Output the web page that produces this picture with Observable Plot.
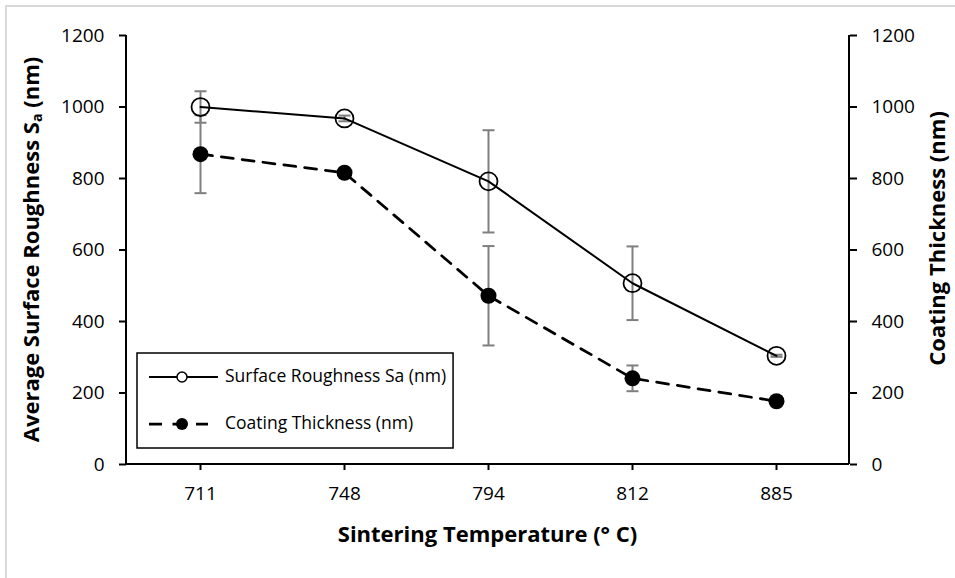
<!DOCTYPE html>
<html><head><meta charset="utf-8">
<script src="https://cdn.jsdelivr.net/npm/d3@7"></script>
<script src="https://cdn.jsdelivr.net/npm/@observablehq/plot@0.6"></script>
<style>body{margin:0;background:#fff}</style>
</head><body><div id="chart"></div>
<script>
// ---- data ----
const temperatures = ["711", "748", "794", "812", "885"];
const roughness    = [1000, 968, 792, 507, 304];
const roughnessErr = [44, 8, 143, 103, 3];
const thickness    = [868, 816, 472, 241, 177];
const thicknessErr = [109, 5, 139, 36, 5];
const yTicks = [0, 200, 400, 600, 800, 1000, 1200];
const xTitle = "Sintering Temperature (° C)";
const yLeftTitle = ["Average Surface Roughness S", "a", " (nm)"];
const yRightTitle = "Coating Thickness (nm)";
const legendLabels = ["Surface Roughness Sa (nm)", "Coating Thickness (nm)"];

const rData = temperatures.map((t, i) => ({t, v: roughness[i], e: roughnessErr[i]}));
const cData = temperatures.map((t, i) => ({t, v: thickness[i], e: thicknessErr[i]}));

const FONT = "'Open Sans', 'Noto Sans', sans-serif";
const TICK_FS = 19;
const LEGEND_FS = 17.5;
const TITLE_FS = 22;
const GRAY = "#7f7f7f";

const capSymbol = {draw(ctx) { ctx.moveTo(-6, 0); ctx.lineTo(6, 0); }};

function decorations(index, scales, values, dim) {
  const g = d3.create("svg:g");
  const L = dim.marginLeft, R = dim.width - dim.marginRight;
  const T = dim.marginTop, B = dim.height - dim.marginBottom;
  g.append("path").attr("d", `M6,${dim.height}V6H${dim.width}`)
    .attr("fill", "none").attr("stroke", "#d9d9d9").attr("stroke-width", 2);
  g.append("line").attr("x1", L).attr("x2", L).attr("y1", T).attr("y2", B)
    .attr("stroke", "black").attr("stroke-width", 2);
  g.append("line").attr("x1", R).attr("x2", R).attr("y1", T).attr("y2", B)
    .attr("stroke", "black").attr("stroke-width", 2);
  g.append("line").attr("x1", L).attr("x2", R).attr("y1", B).attr("y2", B)
    .attr("stroke", "black").attr("stroke-width", 2);
  g.append("text").attr("x", (L + R) / 2).attr("y", B + 72)
    .attr("text-anchor", "middle").attr("dominant-baseline", "middle")
    .attr("font-weight", "bold").attr("font-size", TITLE_FS).text(xTitle);
  const lt = g.append("text")
    .attr("transform", `translate(33,${(T + B) / 2}) rotate(-90)`)
    .attr("text-anchor", "middle").attr("dominant-baseline", "middle")
    .attr("font-weight", "bold").attr("font-size", TITLE_FS);
  lt.append("tspan").text(yLeftTitle[0]);
  lt.append("tspan").attr("font-size", TITLE_FS * 0.65).attr("dy", 5).text(yLeftTitle[1]);
  lt.append("tspan").attr("dy", -5).text(yLeftTitle[2]);
  g.append("text")
    .attr("transform", `translate(939,${(T + B) / 2 - 11}) rotate(-90)`)
    .attr("text-anchor", "middle").attr("dominant-baseline", "middle")
    .attr("font-weight", "bold").attr("font-size", TITLE_FS).text(yRightTitle);
  return g.node();
}

function legend(index, scales, values, dim) {
  const g = d3.create("svg:g").attr("text-anchor", "start");
  const x0 = 137, y0 = 353, h = 95;
  const box = g.append("rect").attr("x", x0).attr("y", y0).attr("height", h)
    .attr("fill", "white").attr("stroke", "black").attr("stroke-width", 1.5);
  const rows = [y0 + 24, y0 + 71];
  g.append("line").attr("x1", 149).attr("x2", 218).attr("y1", rows[0]).attr("y2", rows[0])
    .attr("stroke", "black").attr("stroke-width", 2);
  g.append("circle").attr("cx", 182).attr("cy", rows[0]).attr("r", 5)
    .attr("fill", "white").attr("stroke", "black").attr("stroke-width", 1.5);
  g.append("line").attr("x1", 149).attr("x2", 208).attr("y1", rows[1]).attr("y2", rows[1])
    .attr("stroke", "black").attr("stroke-width", 2.75).attr("stroke-dasharray", "13,10.5");
  g.append("circle").attr("cx", 182).attr("cy", rows[1]).attr("r", 6).attr("fill", "black");
  legendLabels.forEach((s, i) => {
    g.append("text").attr("x", 225).attr("y", rows[i])
      .attr("text-anchor", "start")
      .attr("dominant-baseline", "middle").attr("font-size", LEGEND_FS).text(s);
  });
  box.attr("width", 300);
  requestAnimationFrame(() => {
    let w = 0;
    g.selectAll("text").each(function () { w = Math.max(w, this.getComputedTextLength()); });
    if (w > 0) box.attr("width", 225 + w + 7 - x0);
  });
  return g.node();
}

const errMarks = (data) => [
  Plot.ruleX(data, {x: "t", y1: d => d.v - d.e, y2: d => d.v + d.e, stroke: GRAY, strokeWidth: 2}),
  Plot.dot(data, {x: "t", y: d => d.v + d.e, symbol: capSymbol, stroke: GRAY, strokeWidth: 2, fill: "none"}),
  Plot.dot(data, {x: "t", y: d => d.v - d.e, symbol: capSymbol, stroke: GRAY, strokeWidth: 2, fill: "none"})
];

const fmt = d3.format("d");

const plot = Plot.plot({
  width: 955,
  height: 578,
  marginLeft: 126,
  marginRight: 106,
  marginTop: 35,
  marginBottom: 114,
  style: {fontFamily: FONT, fontSize: TICK_FS + "px", background: "white", color: "black", overflow: "visible"},
  x: {type: "point", domain: temperatures, padding: 0.5},
  y: {domain: [0, 1200]},
  marks: [
    decorations,
    Plot.axisX({ticks: temperatures, tickSize: 6, tickPadding: 16, strokeWidth: 2, fontSize: TICK_FS, label: null}),
    Plot.axisY({anchor: "left", ticks: yTicks, tickFormat: fmt, tickSize: 7, tickPadding: 15, strokeWidth: 2, fontSize: TICK_FS, label: null}),
    Plot.axisY({anchor: "right", ticks: yTicks, tickFormat: fmt, tickSize: 7, tickPadding: 15, strokeWidth: 2, fontSize: TICK_FS, label: null}),
    ...errMarks(rData),
    ...errMarks(cData),
    Plot.line(rData, {x: "t", y: "v", stroke: "black", strokeWidth: 2}),
    Plot.line(cData, {x: "t", y: "v", stroke: "black", strokeWidth: 2.75, strokeDasharray: "12,9"}),
    Plot.dot(rData, {x: "t", y: "v", r: 9, fill: "none", stroke: "black", strokeWidth: 1.75}),
    Plot.dot(cData, {x: "t", y: "v", r: 8, fill: "black", stroke: "none"}),
    legend
  ]
});
document.getElementById("chart").append(plot);
</script>
</body></html>
